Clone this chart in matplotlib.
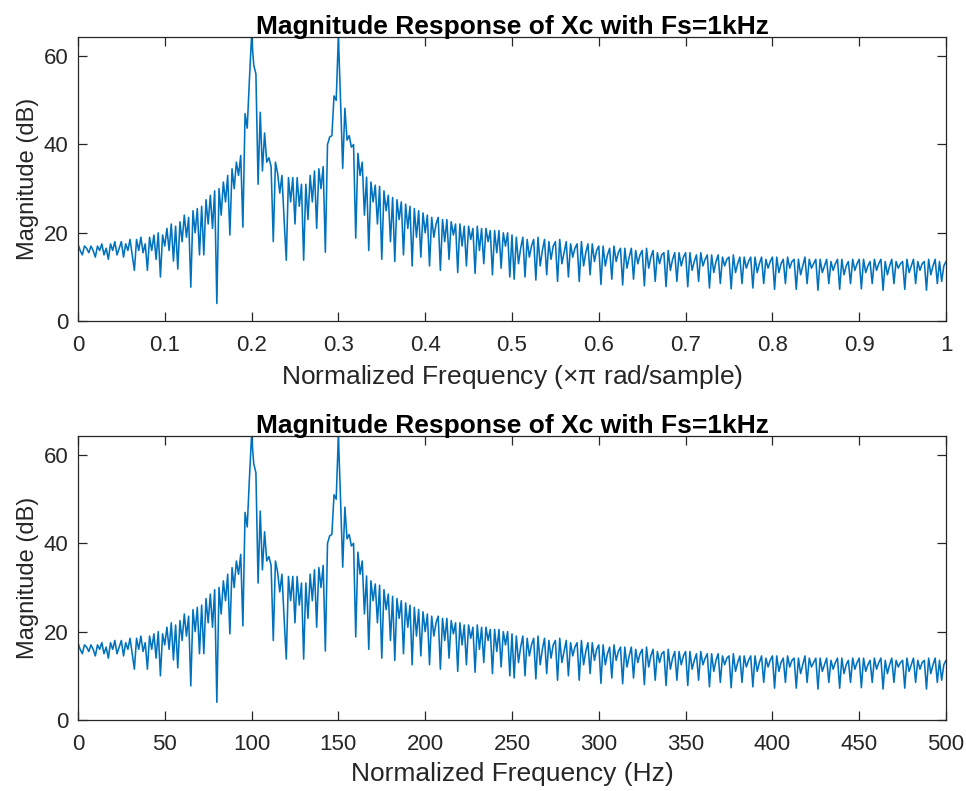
import numpy as np
import matplotlib
matplotlib.use("Agg")
import matplotlib.pyplot as plt

plt.rcParams['font.family'] = ['Liberation Sans', 'DejaVu Sans']
plt.rcParams['mathtext.fontset'] = 'custom'
plt.rcParams['mathtext.rm'] = 'Liberation Sans'
plt.rcParams['mathtext.it'] = 'Liberation Sans'

fs_hz = 1000

# Magnitude (dB), step 0.0025 (x pi rad/sample), in 0.1-wide segments
mag_0_01 = [17.5, 16, 15, 17, 16.5, 15.5, 17, 16, 14.5, 17,
            16, 17.5, 15, 16.5, 14, 17.5, 16, 18, 15, 16.5,
            18, 14.5, 17.5, 16, 18.5, 15, 11.5, 18.5, 16, 19,
            15.5, 17.5, 11.5, 19, 16, 19.5, 14, 20, 10, 19.5]
mag_01_02 = [17, 21, 16, 22, 13.6, 21.5, 11.8, 22.5, 18, 24,
             19, 23.5, 7.7, 25, 20, 25.5, 15, 26, 15, 27.5,
             22, 28.5, 21, 29.5, 4, 30, 24, 31.5, 27, 33,
             19.5, 34.5, 30, 36, 33, 37.5, 21.3, 47, 43.7, 54.6]
mag_02_03 = [64.5, 58, 56, 31, 47.3, 34, 42.6, 36, 37, 35,
             18, 36, 33.5, 29, 33, 23, 13.8, 32.5, 27, 32.5,
             22, 32.5, 26, 31, 13.8, 31, 23, 33, 27, 34,
             21, 34.5, 30, 35, 15.6, 40, 41.7, 42, 51, 50]
mag_03_04 = [64.5, 50, 34.6, 48.2, 41, 42, 39.4, 40, 18.8, 38,
             33, 36, 24, 32.6, 16, 31.5, 27, 30.8, 22, 30.5,
             14, 29.5, 25, 28.5, 18, 28, 13.5, 27.5, 23, 27,
             15, 26.5, 21, 26, 12.5, 25.5, 19, 25, 14.5, 24.5]
mag_04_05 = [20, 24, 12.5, 23.5, 19, 22, 23.5, 11.5, 23, 18,
             23, 14, 22.5, 19.5, 22, 11, 22, 17, 21.5, 12.5,
             21.5, 18.5, 21, 10.8, 21.5, 16, 21, 13, 21, 18,
             20.5, 10.5, 20.5, 15.5, 20.5, 12, 20, 17, 20, 10]
mag_05_06 = [19.5, 9.5, 19, 13, 16.5, 19, 10, 18.5, 14.5, 17,
             18.5, 9.3, 19, 12.5, 16, 18.5, 10.5, 18, 14, 17,
             18, 9, 18.5, 13, 15.5, 18, 10, 17.5, 14.5, 16.5,
             17.5, 9, 18, 12.5, 15.5, 17.5, 10.5, 17.5, 13.5, 16]
mag_06_07 = [17, 8.3, 17, 12.5, 15, 16.5, 9.5, 17, 13.5, 15.5,
             16.5, 8.2, 16.5, 12, 14.5, 16.5, 9.5, 16, 13, 15,
             16, 8, 16.5, 12, 14.5, 16, 9, 15.5, 13, 15,
             15.5, 7.8, 16, 11.5, 14, 15.5, 9, 15.5, 12.5, 14.5]
mag_07_08 = [15.5, 7.8, 15.5, 11.5, 13.5, 15, 9, 15.5, 12.5, 14,
             15, 7.5, 15, 11, 13.5, 15, 8.5, 14.5, 12.5, 14,
             14.5, 7.3, 15, 11, 13, 14.5, 8.5, 14.5, 12, 13.5,
             14.5, 7.5, 14.5, 11, 13, 14.5, 8.5, 14, 12, 13.5]
mag_08_09 = [14.5, 7.2, 14.5, 11, 13, 14, 8.5, 14.5, 12, 13.5,
             14, 7.2, 14, 10.5, 12.5, 14.5, 8.5, 14, 12, 13,
             14, 7, 14, 11, 12.5, 14, 8.5, 13.5, 11.5, 13,
             14, 7.2, 14, 10.5, 12.5, 13.5, 8.5, 14, 11.5, 13]
mag_09_10 = [14, 7.3, 14, 11, 12.5, 13.5, 8.5, 14, 11.5, 13,
             14, 7, 13.5, 10.5, 12.5, 14, 8.5, 13.5, 12, 13,
             13.5, 7.2, 14, 11, 12.5, 14, 8.5, 13.5, 11.5, 13,
             13.5, 7, 14, 10.5, 12.5, 14, 8.5, 13.5, 9, 12.5, 13.5]

mag_db = np.array(mag_0_01 + mag_01_02 + mag_02_03 + mag_03_04 + mag_04_05 +
                  mag_05_06 + mag_06_07 + mag_07_08 + mag_08_09 + mag_09_10)
assert len(mag_db) == 401, len(mag_db)

# Frequency grid (normalized, x pi rad/sample)
freq_norm = np.linspace(0, 1, len(mag_db))
freq_hz = freq_norm * fs_hz / 2

title_text = "Magnitude Response of Xc with Fs=1kHz"
ylabel_text = "Magnitude (dB)"
xlabel_top = "Normalized Frequency ($\\times\\pi$ rad/sample)"
xlabel_bot = "Normalized Frequency (Hz)"
yticks = [0, 20, 40, 60]
xticks_top = [0, 0.1, 0.2, 0.3, 0.4, 0.5, 0.6, 0.7, 0.8, 0.9, 1]
xticklabels_top = ["0", "0.1", "0.2", "0.3", "0.4", "0.5", "0.6", "0.7", "0.8", "0.9", "1"]
xticks_bot = [0, 50, 100, 150, 200, 250, 300, 350, 400, 450, 500]

line_color = "#0072BD"
axis_color = "#262626"

fig = plt.figure(figsize=(9.66, 7.91), dpi=100)
ax1 = fig.add_axes([0.0807, 0.594, 0.8986, 0.359])
ax2 = fig.add_axes([0.0807, 0.0898, 0.8986, 0.359])

def style(ax):
    for s in ax.spines.values():
        s.set_color(axis_color)
        s.set_linewidth(0.9)
    ax.tick_params(direction='in', length=6.3, width=0.9, colors=axis_color,
                   labelsize=16, top=True, right=True)
    ax.tick_params(axis='x', pad=10)
    ax.tick_params(axis='y', pad=7)
    ax.set_ylim(0, 64.3)
    ax.set_yticks(yticks)

ax1.plot(freq_norm, mag_db, color=line_color, lw=1.15)
ax1.set_xlim(0, 1)
ax1.set_xticks(xticks_top)
ax1.set_xticklabels(xticklabels_top)
style(ax1)
ax1.set_title(title_text, fontsize=19, fontweight='bold', pad=2)
ax1.set_xlabel(xlabel_top, fontsize=19, color=axis_color, labelpad=5)
ax1.set_ylabel(ylabel_text, fontsize=17, color=axis_color, labelpad=3)

ax2.plot(freq_hz, mag_db, color=line_color, lw=1.15)
ax2.set_xlim(0, 500)
ax2.set_xticks(xticks_bot)
style(ax2)
ax2.set_title(title_text, fontsize=19, fontweight='bold', pad=2)
ax2.set_xlabel(xlabel_bot, fontsize=19, color=axis_color, labelpad=5)
ax2.set_ylabel(ylabel_text, fontsize=17, color=axis_color, labelpad=3)

fig.savefig("out.png", dpi=100, facecolor="white")
